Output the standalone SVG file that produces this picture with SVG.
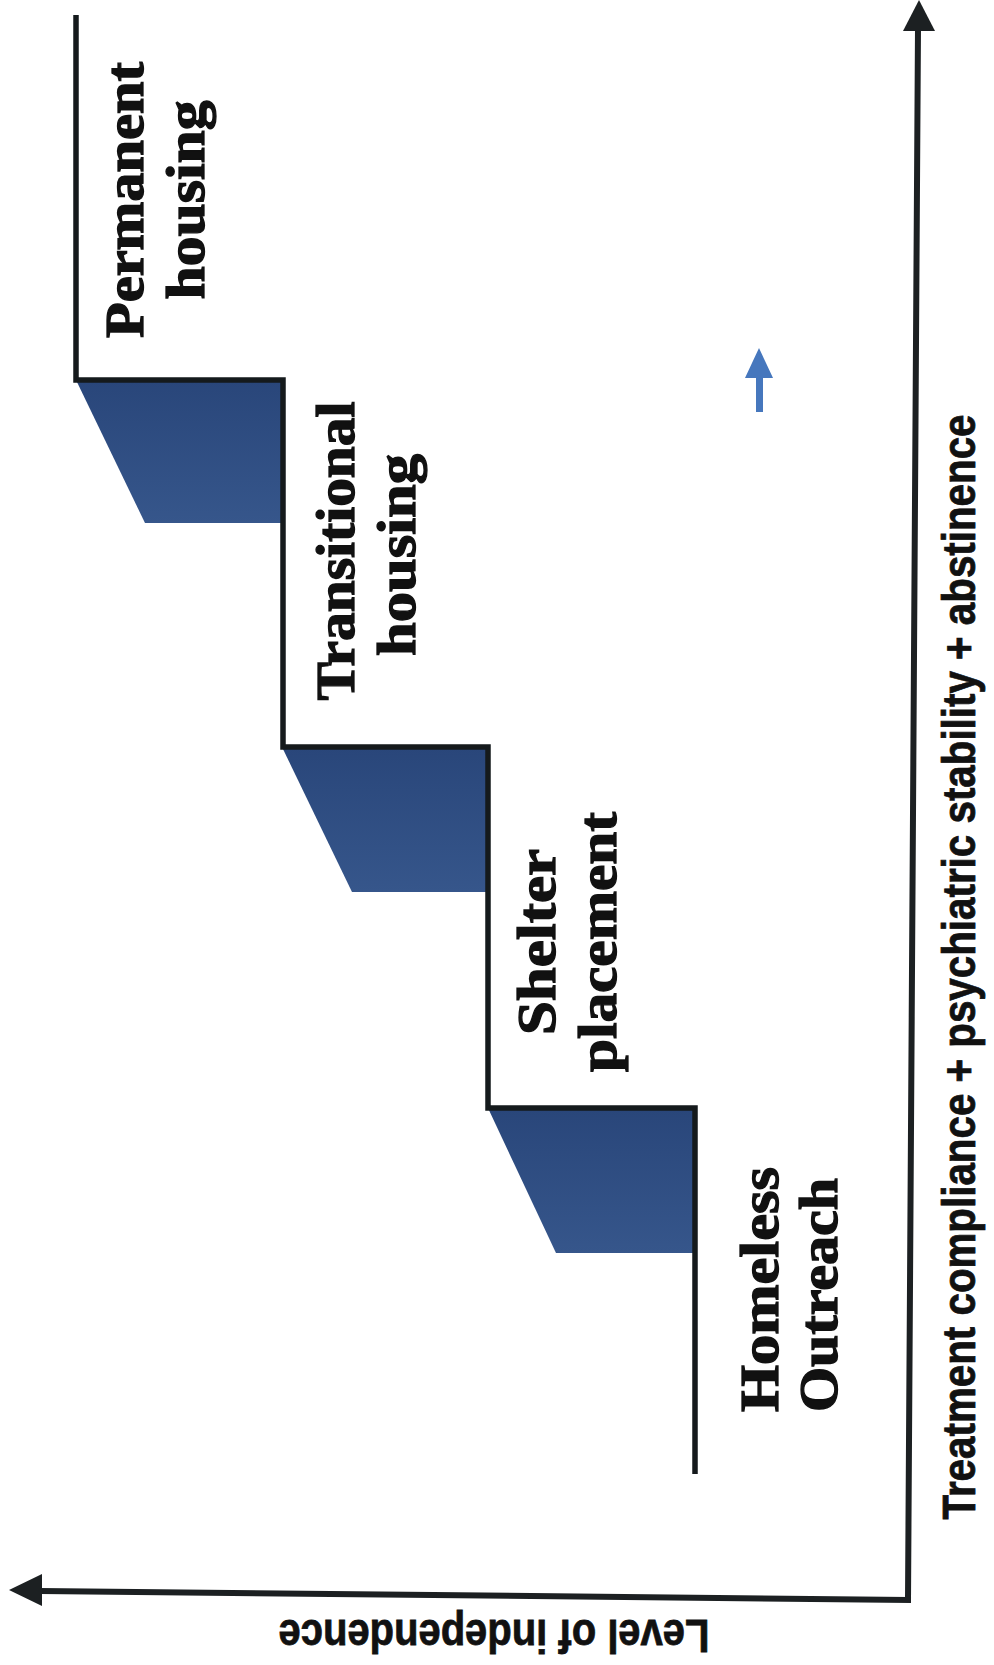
<svg xmlns="http://www.w3.org/2000/svg" width="994" height="1665" viewBox="0 0 994 1665">
<style>
.stair{fill:none;stroke:#151a1c;stroke-width:5.5;stroke-linejoin:miter}
.step{fill:url(#stepGrad)}
.axis{fill:none;stroke:#1c2022;stroke-width:6}
.head{fill:#1c2022}
.lbl{font-family:"Liberation Serif","Times New Roman",serif;font-weight:bold;font-size:54px;fill:#111;stroke:#111;stroke-width:1.3}
.ax{font-family:"Liberation Sans",Arial,sans-serif;font-weight:bold;font-size:46px;fill:#111;stroke:#111;stroke-width:0.8}
</style>
<defs>
<linearGradient id="stepGrad" x1="0" y1="0" x2="0" y2="1">
<stop offset="0" stop-color="#29467a"/>
<stop offset="1" stop-color="#36568b"/>
</linearGradient>
</defs>
<rect x="0" y="0" width="994" height="1665" fill="#ffffff"/>
<g id="steps">
<polygon class="step" points="76,380 283,380 283,523 145,523"/>
<polygon class="step" points="282,747 488,747 488,892 352,892"/>
<polygon class="step" points="488,1108 695,1108 695,1253 556,1253"/>
</g>
<g id="connectors">
<path class="stair" d="M76,15 V380 H283 V747 H488 V1108 H695 V1474"/>
<path class="axis" d="M918,28 L908,1600 L40,1591"/>
<polygon class="head" points="919,0 935,31 903,31"/>
<polygon class="head" points="9,1590 42,1574 42,1606"/>
<g id="up-arrow">
<rect x="756" y="374" width="7" height="38" fill="#4677bd"/>
<polygon points="759,348 773,378 745,378" fill="#4677bd"/>
</g>
</g>
<g id="node-permanent">
<text class="lbl" x="143" y="200" text-anchor="middle" textLength="276" lengthAdjust="spacingAndGlyphs" transform="rotate(-90 143 200)">Permanent</text>
<text class="lbl" x="204" y="200" text-anchor="middle" textLength="199" lengthAdjust="spacingAndGlyphs" transform="rotate(-90 204 200)">housing</text>
</g>
<g id="node-transitional">
<text class="lbl" x="354" y="551" text-anchor="middle" textLength="299" lengthAdjust="spacingAndGlyphs" transform="rotate(-90 354 551)">Transitional</text>
<text class="lbl" x="415" y="555" text-anchor="middle" textLength="202" lengthAdjust="spacingAndGlyphs" transform="rotate(-90 415 555)">housing</text>
</g>
<g id="node-shelter">
<text class="lbl" x="555" y="942" text-anchor="middle" textLength="186" lengthAdjust="spacingAndGlyphs" transform="rotate(-90 555 942)">Shelter</text>
<text class="lbl" x="616" y="942" text-anchor="middle" textLength="260" lengthAdjust="spacingAndGlyphs" transform="rotate(-90 616 942)">placement</text>
</g>
<g id="node-outreach">
<text class="lbl" x="778" y="1412" textLength="245" lengthAdjust="spacingAndGlyphs" transform="rotate(-90 778 1412)">Homeless</text>
<text class="lbl" x="837" y="1412" textLength="234" lengthAdjust="spacingAndGlyphs" transform="rotate(-90 837 1412)">Outreach</text>
</g>
<g id="axis-labels">
<text class="ax" x="494" y="1620" text-anchor="middle" textLength="431" lengthAdjust="spacingAndGlyphs" transform="rotate(180 494 1620)">Level of independence</text>
<text class="ax" x="975" y="967" text-anchor="middle" textLength="1105" lengthAdjust="spacingAndGlyphs" transform="rotate(-90 975 967)">Treatment compliance + psychiatric stability + abstinence</text>
</g>
</svg>
